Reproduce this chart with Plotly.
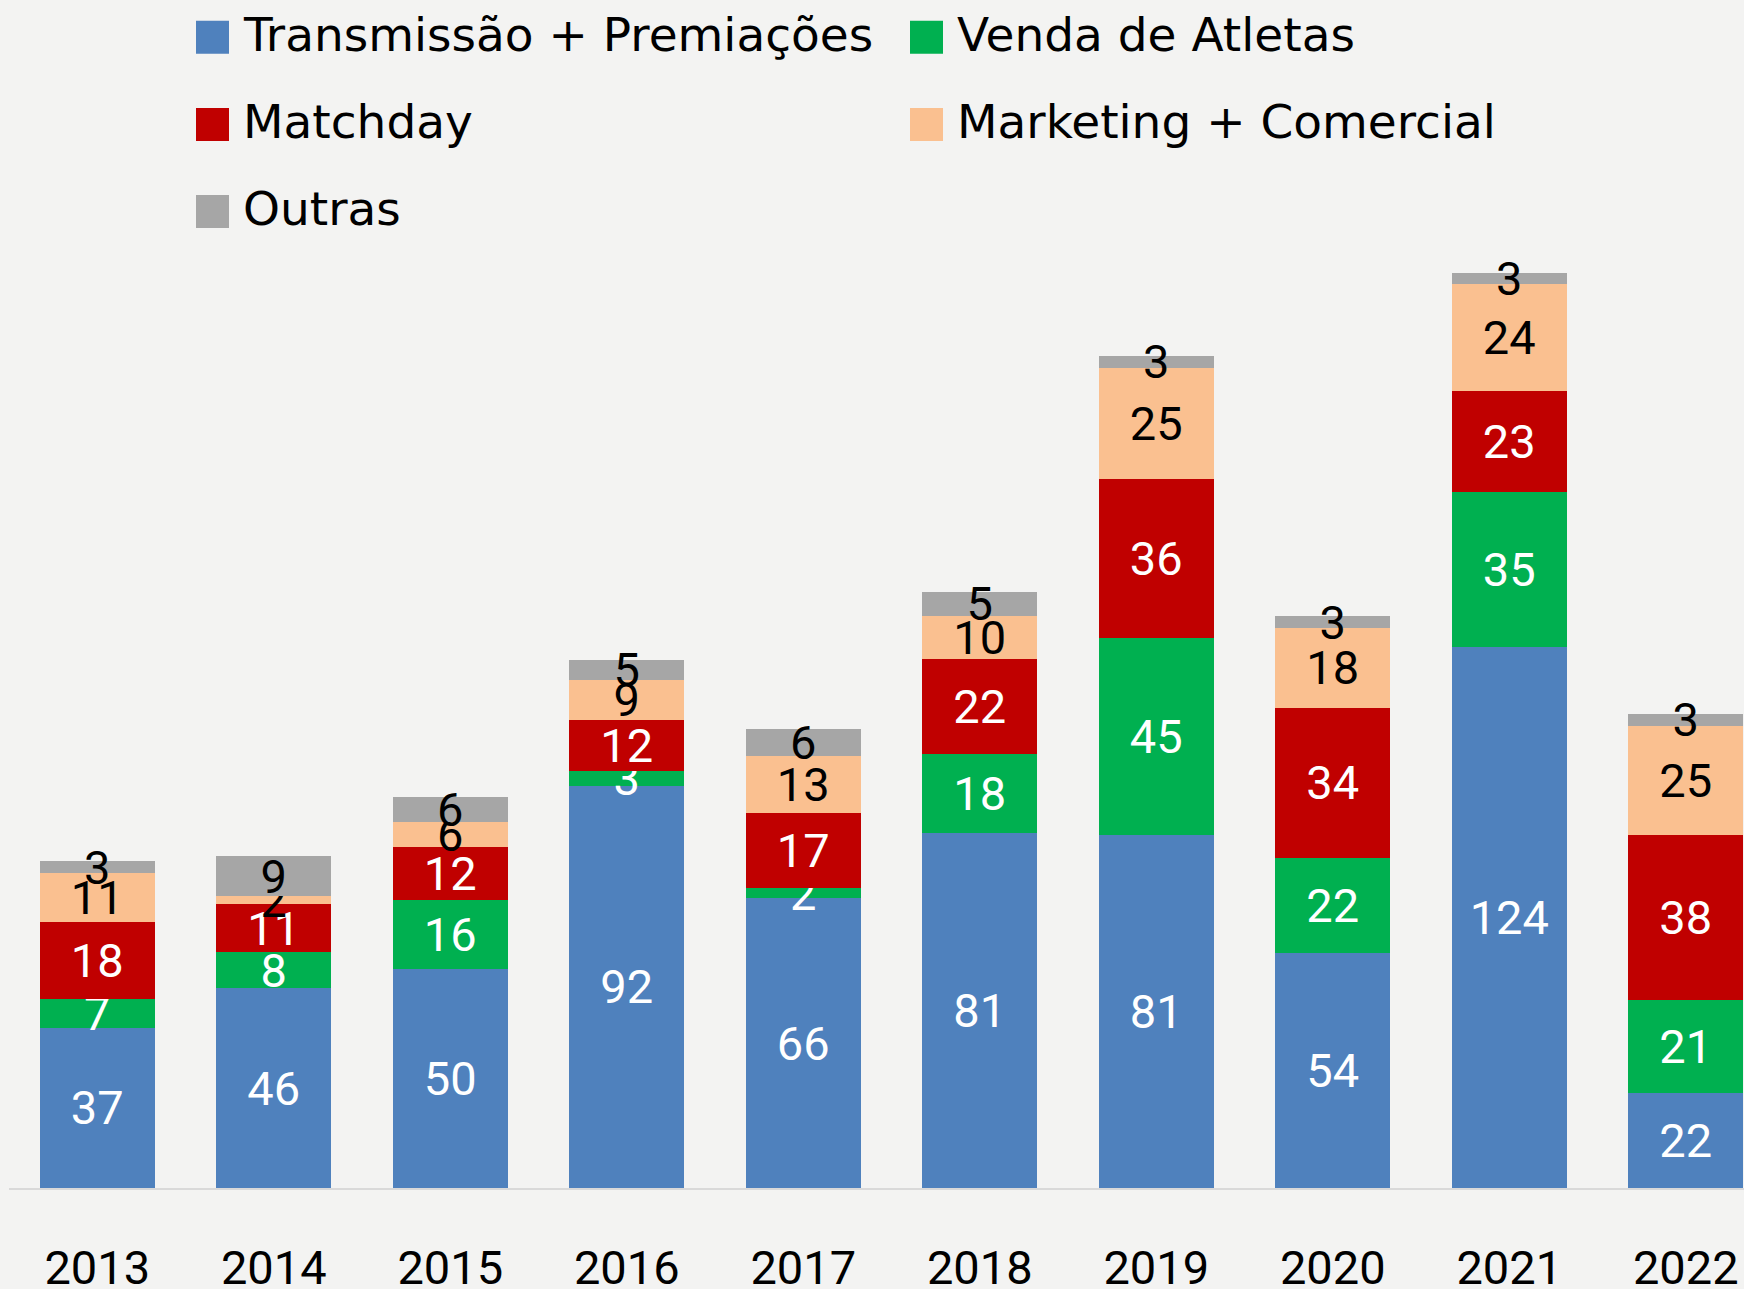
import plotly.graph_objects as go

years = ["2013", "2014", "2015", "2016", "2017", "2018", "2019", "2020", "2021", "2022"]
series_names = ["Transmissão + Premiações", "Venda de Atletas", "Matchday",
                "Marketing + Comercial", "Outras"]
transmissao = [36.6, 45.6, 49.9, 91.8, 66.1, 81.0, 80.6, 53.6, 123.6, 21.6]
venda = [6.6, 8.2, 15.9, 3.4, 2.4, 18.2, 44.9, 21.7, 35.4, 21.3]
matchday = [17.6, 11.1, 12.0, 11.7, 17.1, 21.6, 36.4, 34.4, 22.9, 37.7]
marketing = [11.1, 1.7, 5.7, 9.1, 13.0, 9.9, 25.4, 18.2, 24.4, 24.9]
outras = [2.7, 9.1, 5.7, 4.6, 6.2, 5.3, 2.6, 2.6, 2.6, 2.7]

series_values = [transmissao, venda, matchday, marketing, outras]
colors = ["#4F81BD", "#00B050", "#C00000", "#FAC090", "#A6A6A6"]
text_colors = ["white", "white", "white", "black", "black"]

NUM_FONT = "Roboto"
LEG_FONT = "DejaVu Sans"
FS = 47
BG = "#F3F3F2"
W, H = 1744, 1289
BASE = 1188
PX_PER_UNIT = 4.38
L = 9
BAND = 176.5

fig = go.Figure()
for name, vals, col, tcol in zip(series_names, series_values, colors, text_colors):
    fig.add_trace(go.Bar(
        x=years, y=vals, name=name,
        marker=dict(color=col, line=dict(width=0)),
        texttemplate="%{y:.0f}",
        textposition="inside", insidetextanchor="middle", textangle=0,
        textfont=dict(color=tcol, size=FS, family=NUM_FONT),
        showlegend=False,
    ))

# manual legend (2 columns, 3 rows) in page pixel coordinates
col_x = [196, 910]
row_y = [37.3, 124.5, 211.5]
sw = 33
for i, (name, col) in enumerate(zip(series_names, colors)):
    cx = col_x[i % 2]
    cy = row_y[i // 2]
    fig.add_shape(type="rect", xref="paper", yref="paper",
                  x0=(cx - L) / (W - L), x1=(cx + sw - L) / (W - L),
                  y0=(BASE - (cy + sw / 2)) / BASE, y1=(BASE - (cy - sw / 2)) / BASE,
                  fillcolor=col, line=dict(width=0))
    fig.add_annotation(xref="paper", yref="paper",
                       x=(cx + sw + 12 - L) / (W - L), y=(BASE - (cy - 3)) / BASE,
                       text=name, showarrow=False, xanchor="left", yanchor="middle",
                       font=dict(size=FS, color="black", family=LEG_FONT))

fig.update_layout(
    width=W, height=H,
    barmode="stack", bargap=0.347,
    paper_bgcolor=BG, plot_bgcolor=BG,
    margin=dict(l=L, r=0, t=0, b=H - BASE, pad=0, autoexpand=False),
    uniformtext=dict(minsize=FS, mode="show"),
    font=dict(family=NUM_FONT, color="black", size=FS),
    showlegend=False,
    hovermode=False,
)
fig.update_xaxes(
    type="category", range=[-0.5, -0.5 + (W - L) / BAND],
    automargin=False,
    showline=True, linecolor="#D9D9D9", linewidth=2,
    showgrid=False, ticks="outside", ticklen=38, tickcolor="rgba(0,0,0,0)",
    tickfont=dict(size=FS, color="black", family=NUM_FONT),
)
fig.update_yaxes(
    range=[0, BASE / PX_PER_UNIT], visible=False, showgrid=False, zeroline=False,
    automargin=False,
)

fig.write_html(
    "out.html",
    config={"displayModeBar": False},
    post_script="document.body.style.margin='0';document.body.style.overflow='hidden';"
                "document.body.style.background='" + BG + "';",
)
